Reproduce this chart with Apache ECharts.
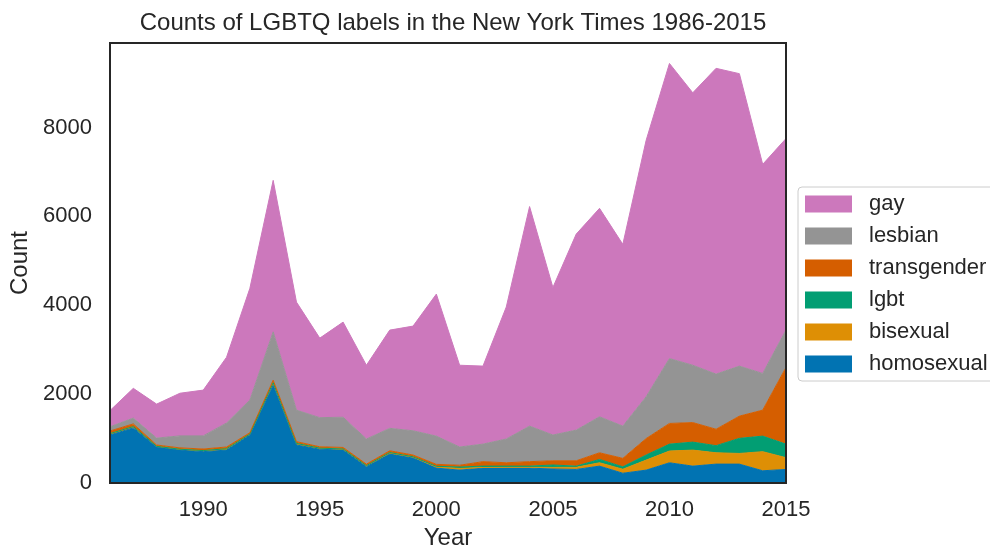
<!DOCTYPE html>
<html>
<head>
<meta charset="utf-8">
<title>Counts of LGBTQ labels</title>
<script src="https://cdn.jsdelivr.net/npm/echarts@6/dist/echarts.min.js"></script>
<style>
  html, body { margin: 0; padding: 0; background: #fff; }
  #chart { width: 990px; height: 546px; }
</style>
</head>
<body>
<div id="chart"></div>
<script>
// stacked area of NYT label counts, 1986-2015
const chart = echarts.init(document.getElementById('chart'))

// data
const years = []
for (let y = 1986; y <= 2015; y++) years.push(String(y))

const homosexual = [1080, 1240, 810, 740, 705, 740, 1080, 2200, 855, 760, 740, 365, 650, 560, 335,
  290, 335, 335, 335, 315, 305, 380, 220, 290, 455, 380, 425, 425, 275, 305]
const bisexual = [30, 30, 15, 20, 25, 30, 20, 60, 35, 25, 25, 25, 35, 30, 30,
  40, 15, 20, 20, 35, 50, 75, 90, 225, 265, 360, 255, 240, 430, 265]
const lgbt = [0, 0, 0, 0, 0, 0, 0, 0, 0, 0, 0, 0, 0, 0, 10,
  30, 30, 25, 25, 55, 25, 75, 55, 115, 155, 180, 160, 340, 350, 305]
const transgender = [60, 60, 30, 30, 35, 40, 30, 55, 40, 30, 35, 35, 40, 40, 45,
  40, 100, 75, 100, 95, 120, 150, 190, 370, 465, 440, 370, 500, 585, 1725]
const lesbian = [95, 130, 155, 270, 295, 540, 735, 1085, 710, 655, 680, 565, 505, 545, 635,
  410, 395, 535, 800, 580, 690, 810, 725, 940, 1460, 1290, 1240, 1125, 825, 840]
const gay = [365, 670, 765, 960, 1030, 1480, 2515, 3410, 2430, 1790, 2140, 1660, 2210, 2355, 3195,
  1840, 1755, 2970, 4940, 3320, 4410, 4690, 4090, 5770, 6640, 6130, 6880, 6580, 4705, 4310]

const names = ['homosexual', 'bisexual', 'lgbt', 'transgender', 'lesbian', 'gay']
const values = [homosexual, bisexual, lgbt, transgender, lesbian, gay]
const colors = ['#0173b2', '#de8f05', '#029e73', '#d55e00', '#949494', '#cc78bc']

const font = 'Liberation Sans, Arial, sans-serif'
const ink = '#262626'

const option = {
  animation: false,
  color: colors,
  title: {
    text: 'Counts of LGBTQ labels in the New York Times 1986-2015',
    left: 448,
    textAlign: 'center',
    top: 6,
    textStyle: { fontFamily: font, fontSize: 24, fontWeight: 'normal', color: ink }
  },
  legend: {
    // same order as the reference legend (top of the stack first)
    data: names.slice().reverse(),
    orient: 'vertical',
    left: 798,
    top: 187,
    icon: 'rect',
    itemWidth: 47,
    itemHeight: 17,
    itemGap: 10,
    padding: [6, 12, 6, 7],
    borderColor: '#cccccc',
    borderWidth: 1,
    borderRadius: 4,
    backgroundColor: '#fff',
    textStyle: { fontFamily: font, fontSize: 22, color: ink, lineHeight: 22, padding: [0, 0, 0, 12] }
  },
  grid: {
    left: 110, right: 204, top: 43, bottom: 63,
    outerBoundsMode: 'none',
    show: true, z: 10,
    borderColor: ink, borderWidth: 2,
    backgroundColor: 'transparent'
  },
  xAxis: {
    type: 'category',
    data: years,
    boundaryGap: false,
    name: 'Year',
    nameLocation: 'middle',
    nameGap: 40,
    nameTextStyle: { fontFamily: font, fontSize: 24, color: ink },
    axisLine: { show: false },
    axisTick: { show: false },
    splitLine: { show: false },
    axisLabel: {
      interval: (i, v) => Number(v) % 5 === 0,
      margin: 16,
      fontFamily: font, fontSize: 22, color: ink
    }
  },
  yAxis: {
    type: 'value',
    min: 0,
    max: 9900,
    interval: 2000,
    name: 'Count',
    nameLocation: 'middle',
    nameGap: 74,
    nameTextStyle: { fontFamily: font, fontSize: 24, color: ink },
    axisLine: { show: false },
    axisTick: { show: false },
    splitLine: { show: false },
    axisLabel: {
      margin: 18,
      fontFamily: font, fontSize: 22, color: ink,
      formatter: v => (v % 2000 === 0 ? String(v) : '')
    }
  },
  series: names.map((n, i) => ({
    name: n,
    type: 'line',
    stack: 'total',
    data: values[i],
    showSymbol: false,
    symbol: 'none',
    lineStyle: { width: 1, color: colors[i] },
    areaStyle: { color: colors[i], opacity: 1 }
  }))
}

chart.setOption(option)
</script>
</body>
</html>
